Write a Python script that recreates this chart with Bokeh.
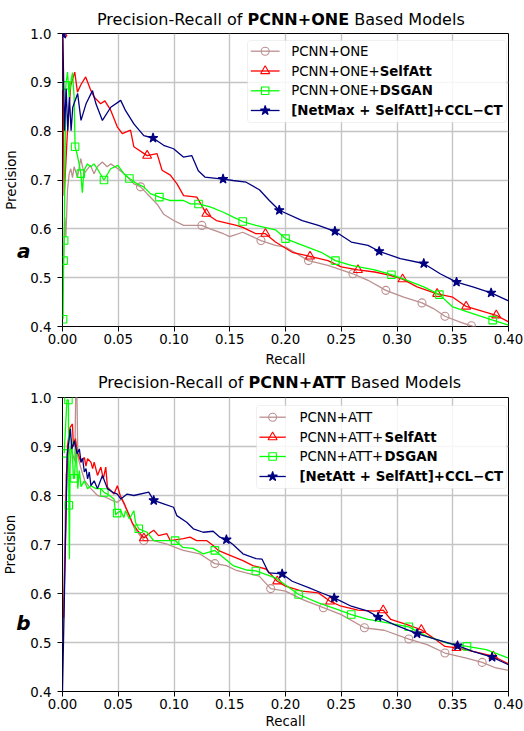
import math
from bokeh.plotting import figure
from bokeh.models import (Range1d, FixedTicker, NumeralTickFormatter, Label, BoxAnnotation,
                          LinearAxis, CustomJSTickFormatter, Div)
from bokeh.layouts import column
from bokeh.embed import file_html
from bokeh.resources import INLINE

# ---------------- data ----------------
X_TICKS = [0.0, 0.05, 0.10, 0.15, 0.20, 0.25, 0.30, 0.35, 0.40]
Y_TICKS = [0.4, 0.5, 0.6, 0.7, 0.8, 0.9, 1.0]

# Panel a : PCNN+ONE based models
ONE_PCNN_R = [0.0006, 0.002, 0.003, 0.0045, 0.006, 0.0074, 0.009, 0.0104, 0.0134, 0.0164, 0.0193, 0.025, 0.0283, 0.0312, 0.0357, 0.040, 0.0432, 0.0497, 0.0565, 0.064, 0.070, 0.0758, 0.0847, 0.0907, 0.0997, 0.1086, 0.125, 0.1324, 0.1443, 0.150, 0.1617, 0.178, 0.191, 0.200, 0.2206, 0.238, 0.2605, 0.274, 0.290, 0.306, 0.3224, 0.3327, 0.343, 0.356, 0.3667, 0.380]
ONE_PCNN_P = [0.50, 0.624, 0.583, 0.68, 0.713, 0.723, 0.705, 0.727, 0.706, 0.744, 0.713, 0.73, 0.713, 0.727, 0.737, 0.727, 0.733, 0.723, 0.71, 0.692, 0.686, 0.672, 0.651, 0.63, 0.617, 0.607, 0.607, 0.60, 0.59, 0.584, 0.593, 0.576, 0.566, 0.5626, 0.535, 0.525, 0.508, 0.4946, 0.474, 0.46, 0.4483, 0.4367, 0.421, 0.4095, 0.4014, 0.39]
ONE_PCNN_MR = [0.070, 0.125, 0.178, 0.2206, 0.2605, 0.290, 0.3224, 0.343, 0.3667]
ONE_PCNN_MP = [0.686, 0.607, 0.576, 0.535, 0.508, 0.474, 0.4483, 0.421, 0.4014]

ONE_SELF_R = [0.0, 0.0015, 0.0045, 0.0074, 0.011, 0.0134, 0.0165, 0.0208, 0.0253, 0.0283, 0.0342, 0.038, 0.0432, 0.0491, 0.0536, 0.061, 0.064, 0.0759, 0.0848, 0.0893, 0.0967, 0.1027, 0.1086, 0.1205, 0.129, 0.138, 0.156, 0.1616, 0.1734, 0.182, 0.191, 0.206, 0.222, 0.238, 0.250, 0.265, 0.280, 0.293, 0.305, 0.318, 0.336, 0.350, 0.362, 0.374, 0.389, 0.400]
ONE_SELF_P = [1.0, 0.668, 0.802, 0.894, 0.921, 0.880, 0.895, 0.911, 0.884, 0.870, 0.856, 0.862, 0.843, 0.809, 0.795, 0.802, 0.768, 0.750, 0.754, 0.720, 0.710, 0.692, 0.668, 0.665, 0.631, 0.617, 0.607, 0.603, 0.590, 0.590, 0.573, 0.552, 0.5435, 0.535, 0.522, 0.516, 0.5116, 0.505, 0.497, 0.481, 0.467, 0.460, 0.441, 0.433, 0.423, 0.4095]
ONE_SELF_MR = [0.0, 0.0759, 0.129, 0.182, 0.222, 0.265, 0.305, 0.336, 0.362, 0.389]
ONE_SELF_MP = [1.0, 0.750, 0.631, 0.590, 0.5435, 0.516, 0.497, 0.467, 0.441, 0.423]

ONE_DSGAN_R = [0.0005, 0.001, 0.0015, 0.003, 0.0045, 0.006, 0.0074, 0.009, 0.0104, 0.0113, 0.013, 0.0149, 0.0164, 0.0178, 0.0193, 0.0223, 0.0253, 0.0283, 0.032, 0.0372, 0.0432, 0.0497, 0.055, 0.060, 0.0669, 0.0729, 0.0788, 0.0869, 0.0967, 0.1086, 0.1146, 0.122, 0.1324, 0.1443, 0.1532, 0.1616, 0.1734, 0.191, 0.200, 0.212, 0.232, 0.2448, 0.259, 0.280, 0.295, 0.309, 0.324, 0.338, 0.350, 0.368, 0.3858, 0.400]
ONE_DSGAN_P = [0.415, 0.535, 0.576, 0.894, 0.921, 0.870, 0.900, 0.920, 0.870, 0.768, 0.754, 0.733, 0.713, 0.674, 0.720, 0.733, 0.727, 0.733, 0.720, 0.700, 0.723, 0.730, 0.713, 0.703, 0.692, 0.686, 0.672, 0.665, 0.658, 0.658, 0.651, 0.651, 0.645, 0.634, 0.624, 0.615, 0.607, 0.598, 0.580, 0.569, 0.552, 0.535, 0.525, 0.516, 0.506, 0.4946, 0.481, 0.4653, 0.440, 0.4265, 0.413, 0.403]
ONE_DSGAN_MR = [0.0005, 0.001, 0.0015, 0.003, 0.0113, 0.0164, 0.0372, 0.060, 0.0869, 0.122, 0.1616, 0.200, 0.2448, 0.295, 0.338, 0.3858]
ONE_DSGAN_MP = [0.415, 0.535, 0.576, 0.894, 0.768, 0.713, 0.700, 0.703, 0.665, 0.651, 0.615, 0.580, 0.535, 0.506, 0.4653, 0.413]

ONE_CCL_R = [0.0003, 0.0018, 0.0033, 0.0047, 0.0062, 0.0077, 0.0092, 0.0136, 0.0166, 0.0211, 0.0269, 0.030, 0.0358, 0.0433, 0.0522, 0.0566, 0.064, 0.0729, 0.0812, 0.0907, 0.0996, 0.1084, 0.1159, 0.1218, 0.1277, 0.144, 0.1529, 0.1647, 0.1766, 0.1855, 0.1944, 0.215, 0.2295, 0.2443, 0.259, 0.274, 0.284, 0.303, 0.324, 0.3387, 0.3534, 0.368, 0.3844, 0.400]
ONE_CCL_P = [0.999, 0.801, 0.887, 0.801, 0.870, 0.801, 0.849, 0.877, 0.822, 0.856, 0.883, 0.856, 0.822, 0.849, 0.863, 0.842, 0.815, 0.791, 0.786, 0.771, 0.764, 0.747, 0.750, 0.719, 0.706, 0.702, 0.699, 0.6955, 0.680, 0.658, 0.638, 0.617, 0.607, 0.595, 0.573, 0.566, 0.554, 0.539, 0.529, 0.508, 0.491, 0.481, 0.469, 0.4524]
ONE_CCL_MR = [0.0003, 0.0812, 0.144, 0.1944, 0.2443, 0.284, 0.324, 0.3534, 0.3844]
ONE_CCL_MP = [0.999, 0.786, 0.702, 0.638, 0.595, 0.554, 0.529, 0.491, 0.469]

# Panel b : PCNN+ATT based models
ATT_PCNN_R = [0.0005, 0.003, 0.007, 0.011, 0.0118, 0.013, 0.0137, 0.0166, 0.020, 0.025, 0.0314, 0.038, 0.0447, 0.0492, 0.053, 0.0566, 0.060, 0.064, 0.0729, 0.0818, 0.0936, 0.101, 0.1084, 0.123, 0.1366, 0.147, 0.156, 0.1647, 0.1764, 0.1867, 0.200, 0.2148, 0.234, 0.250, 0.2708, 0.2885, 0.3106, 0.327, 0.343, 0.3622, 0.3764, 0.3888, 0.400]
ATT_PCNN_P = [0.50, 0.84, 0.90, 0.87, 1.0, 1.0, 0.88, 0.855, 0.83, 0.815, 0.80, 0.797, 0.79, 0.786, 0.793, 0.775, 0.76, 0.735, 0.708, 0.708, 0.701, 0.694, 0.688, 0.681, 0.661, 0.657, 0.647, 0.642, 0.6355, 0.61, 0.605, 0.588, 0.571, 0.557, 0.53, 0.525, 0.507, 0.4956, 0.4785, 0.468, 0.4594, 0.448, 0.443]
ATT_PCNN_MR = [0.0729, 0.1366, 0.1867, 0.234, 0.2708, 0.3106, 0.343, 0.3764]
ATT_PCNN_MP = [0.708, 0.661, 0.61, 0.571, 0.53, 0.507, 0.4785, 0.4594]

ATT_SELF_R = [0.001, 0.0045, 0.0068, 0.0089, 0.0098, 0.0116, 0.0131, 0.0166, 0.0196, 0.021, 0.0225, 0.0255, 0.027, 0.0284, 0.0314, 0.0344, 0.0366, 0.0388, 0.0403, 0.0462, 0.0492, 0.0518, 0.0553, 0.0628, 0.0673, 0.073, 0.0773, 0.0818, 0.0862, 0.0936, 0.0966, 0.1084, 0.1144, 0.1203, 0.1292, 0.1351, 0.1396, 0.147, 0.1618, 0.1707, 0.1825, 0.1926, 0.200, 0.2148, 0.2295, 0.240, 0.250, 0.265, 0.280, 0.2876, 0.2944, 0.309, 0.3218, 0.3327, 0.343, 0.3534, 0.368, 0.3864, 0.400]
ATT_SELF_P = [0.55, 0.902, 0.939, 0.946, 0.90, 0.916, 0.89, 0.868, 0.878, 0.86, 0.875, 0.868, 0.855, 0.868, 0.841, 0.858, 0.834, 0.858, 0.817, 0.803, 0.82, 0.80, 0.784, 0.743, 0.729, 0.713, 0.722, 0.729, 0.718, 0.722, 0.708, 0.712, 0.715, 0.708, 0.708, 0.698, 0.688, 0.681, 0.667, 0.657, 0.65, 0.625, 0.615, 0.605, 0.6013, 0.584, 0.574, 0.566, 0.564, 0.566, 0.547, 0.5365, 0.526, 0.509, 0.492, 0.489, 0.482, 0.472, 0.4567]
ATT_SELF_MR = [0.073, 0.1926, 0.240, 0.2876, 0.3218, 0.3534, 0.3864]
ATT_SELF_MP = [0.713, 0.625, 0.584, 0.566, 0.526, 0.489, 0.472]

ATT_DSGAN_R = [0.0015, 0.004, 0.0053, 0.0057, 0.0062, 0.0068, 0.0083, 0.0098, 0.0107, 0.0122, 0.0137, 0.0151, 0.0166, 0.0196, 0.0225, 0.0255, 0.030, 0.0344, 0.0375, 0.0403, 0.0462, 0.0477, 0.049, 0.0522, 0.055, 0.0566, 0.060, 0.064, 0.0655, 0.0684, 0.0758, 0.0818, 0.101, 0.108, 0.117, 0.1262, 0.1366, 0.144, 0.1529, 0.1647, 0.1734, 0.191, 0.2118, 0.2295, 0.247, 0.259, 0.274, 0.2915, 0.3106, 0.327, 0.3445, 0.3628, 0.380, 0.400]
ATT_DSGAN_P = [0.886, 0.995, 0.995, 0.78, 0.67, 0.86, 0.916, 0.835, 0.835, 0.899, 0.814, 0.851, 0.818, 0.83, 0.814, 0.82, 0.814, 0.814, 0.806, 0.803, 0.793, 0.76, 0.764, 0.769, 0.755, 0.769, 0.752, 0.769, 0.745, 0.732, 0.725, 0.708, 0.708, 0.694, 0.692, 0.681, 0.688, 0.674, 0.657, 0.648, 0.646, 0.632, 0.598, 0.581, 0.567, 0.557, 0.547, 0.54, 0.532, 0.5126, 0.499, 0.492, 0.4853, 0.468]
ATT_DSGAN_MR = [0.0015, 0.0053, 0.0057, 0.0107, 0.0375, 0.049, 0.0684, 0.101, 0.1366, 0.1734, 0.2118, 0.259, 0.3106, 0.3628]
ATT_DSGAN_MP = [0.886, 0.995, 0.78, 0.835, 0.806, 0.764, 0.732, 0.708, 0.688, 0.646, 0.598, 0.557, 0.532, 0.492]

ATT_CCL_R = [0.0, 0.0042, 0.0071, 0.0083, 0.0107, 0.0131, 0.0151, 0.0166, 0.018, 0.0196, 0.0211, 0.0225, 0.024, 0.0255, 0.0284, 0.0314, 0.0358, 0.0403, 0.0447, 0.0492, 0.0522, 0.058, 0.064, 0.0773, 0.0818, 0.0907, 0.0996, 0.1025, 0.1114, 0.1173, 0.1262, 0.1351, 0.1411, 0.147, 0.1529, 0.1618, 0.1736, 0.179, 0.185, 0.197, 0.206, 0.2207, 0.2325, 0.2437, 0.259, 0.274, 0.283, 0.297, 0.318, 0.3357, 0.3543, 0.368, 0.3853, 0.400]
ATT_CCL_P = [0.40, 0.882, 0.936, 0.895, 0.912, 0.885, 0.895, 0.868, 0.876, 0.848, 0.855, 0.834, 0.848, 0.82, 0.83, 0.814, 0.841, 0.814, 0.807, 0.803, 0.793, 0.803, 0.80, 0.807, 0.79, 0.783, 0.776, 0.759, 0.7455, 0.732, 0.725, 0.727, 0.715, 0.71, 0.70, 0.681, 0.671, 0.67, 0.642, 0.64, 0.625, 0.612, 0.601, 0.591, 0.574, 0.564, 0.552, 0.537, 0.518, 0.506, 0.4935, 0.482, 0.47, 0.4546]
ATT_CCL_MR = [0.0818, 0.147, 0.197, 0.2437, 0.283, 0.318, 0.3543, 0.3853]
ATT_CCL_MP = [0.79, 0.71, 0.64, 0.591, 0.552, 0.518, 0.4935, 0.47]

LEGEND_ONE = [("PCNN+ONE", ""), ("PCNN+ONE+", "SelfAtt"), ("PCNN+ONE+", "DSGAN"), ("", "[NetMax + SelfAtt]+CCL\u2212CT")]
LEGEND_ATT = [("PCNN+ATT", ""), ("PCNN+ATT+", "SelfAtt"), ("PCNN+ATT+", "DSGAN"), ("", "[NetAtt + SelfAtt]+CCL\u2212CT")]

# ---------------- styling ----------------
FONT = "DejaVu Sans"
COLORS = ["#bc8f8f", "#ff0000", "#00ff00", "#000080"]
MARKERS = ["circle", "triangle", "square", "star"]
MSIZE = [8, 9, 7.5, 10]
MFILL = [None, None, None, "#000080"]

W_N = {' ': .318, 'P': .603, 'r': .411, 'e': .615, 'c': .550, 'i': .278, 's': .521, 'o': .612,
       'n': .634, '-': .361, 'R': .695, 'a': .613, 'l': .278, 'f': .352, 'B': .686, 'd': .635,
       'M': .863, 'C': .698, 'N': .748, '+': .838, 'O': .787, 'E': .632, 'A': .684, 'T': .611}


def tw(s, px):
    return sum(W_N[c] for c in s) * px


FRAME_W = 450
FIG_W = 524


def lab(p, x, y, text, style="normal"):
    p.add_layout(Label(x=x, y=y, x_units="screen", y_units="screen", text=text,
                       text_font=FONT, text_font_size="10pt", text_font_style=style,
                       text_align="left", text_baseline="middle", text_color="black"))


def title_div(bold, height, pad_top, pad_left):
    html = ('<div style="font-family:\'DejaVu Sans\';font-size:16px;line-height:16px;'
            'color:black;white-space:nowrap;padding-top:%dpx;padding-left:%dpx">'
            'Precision-Recall of <b>%s</b> Based Models</div>') % (pad_top, pad_left, bold)
    return Div(text=html, width=FIG_W, height=height, margin=0)


def panel(height, fh, series, legend_labels, leg, letter, letter_y, label_standoff):
    top = 5
    bottom = height - top - fh
    p = figure(width=FIG_W, height=height, x_range=Range1d(0, 0.4), y_range=Range1d(0.4, 1.0),
               output_backend="svg", toolbar_location=None, title=None,
               min_border_left=58, min_border_right=16, min_border_top=top,
               min_border_bottom=bottom)
    p.background_fill_color = "white"
    p.border_fill_color = "white"
    p.outline_line_color = "black"
    p.outline_line_width = 1
    p.grid.grid_line_color = "#c4c4c4"
    p.grid.grid_line_width = 1.4
    p.xaxis.ticker = FixedTicker(ticks=X_TICKS)
    p.yaxis.ticker = FixedTicker(ticks=Y_TICKS)
    p.xaxis.formatter = NumeralTickFormatter(format="0.00")
    p.yaxis.formatter = NumeralTickFormatter(format="0.0")
    for ax in (p.xaxis, p.yaxis):
        ax.axis_line_color = None
        ax.major_tick_line_color = "black"
        ax.major_tick_line_width = 1
        ax.major_tick_out = 5
        ax.major_tick_in = 0
        ax.minor_tick_line_color = None
        ax.major_label_text_font = FONT
        ax.major_label_text_font_size = "10pt"
        ax.major_label_text_color = "black"
    p.xaxis.major_label_standoff = 2
    p.yaxis.major_label_standoff = 6
    p.xaxis.axis_label = "Recall"
    p.xaxis.axis_label_text_font = FONT
    p.xaxis.axis_label_text_font_size = "10pt"
    p.xaxis.axis_label_text_font_style = "normal"
    p.xaxis.axis_label_text_color = "black"
    p.xaxis.axis_label_standoff = label_standoff

    # outer left axis: carries the panel letter (as its single tick label) and "Precision"
    ext = LinearAxis(ticker=FixedTicker(ticks=[letter_y]),
                     formatter=CustomJSTickFormatter(code="return '%s';" % letter),
                     axis_label="Precision")
    ext.axis_line_color = None
    ext.major_tick_line_color = None
    ext.minor_tick_line_color = None
    ext.major_tick_out = 0
    ext.major_tick_in = 0
    ext.major_label_standoff = -3
    ext.major_label_text_font = FONT
    ext.major_label_text_font_size = "15pt"
    ext.major_label_text_font_style = "bold italic"
    ext.major_label_text_color = "black"
    ext.axis_label_standoff = -5
    ext.axis_label_text_font = FONT
    ext.axis_label_text_font_size = "10pt"
    ext.axis_label_text_font_style = "normal"
    ext.axis_label_text_color = "black"
    p.add_layout(ext, "left")

    for i, (r, pr, mr, mp) in enumerate(series):
        p.line(r, pr, line_color=COLORS[i], line_width=1.3)
        p.scatter(mr, mp, marker=MARKERS[i], size=MSIZE[i], line_color=COLORS[i],
                  fill_color=MFILL[i], line_width=1.1)

    # legend (mixed normal / bold entries)
    l, r_, b_, t_ = leg["box"]
    p.add_layout(BoxAnnotation(left=l, right=r_, bottom=b_, top=t_, left_units="screen",
                               right_units="screen", bottom_units="screen", top_units="screen",
                               fill_color="white", fill_alpha=0.85, line_color="#cccccc",
                               line_width=1, border_radius=3))

    def to_x(sx):
        return 0.4 * sx / FRAME_W

    def to_y(sy):
        return 0.4 + 0.6 * sy / fh

    for i, (norm, bold) in enumerate(legend_labels):
        sy = leg["rows"][i]
        p.line([to_x(leg["line"][0]), to_x(leg["line"][1])], [to_y(sy), to_y(sy)],
               line_color=COLORS[i], line_width=1.3, level="overlay")
        p.scatter([to_x(leg["mark"])], [to_y(sy)], marker=MARKERS[i], size=MSIZE[i],
                  line_color=COLORS[i], fill_color=MFILL[i], line_width=1.1, level="overlay")
        x = leg["text"]
        if norm:
            lab(p, x, sy, norm)
            x += tw(norm, 13.333)
        if bold:
            lab(p, x, sy, bold, style="bold")
    return p


SERIES_ONE = [(ONE_PCNN_R, ONE_PCNN_P, ONE_PCNN_MR, ONE_PCNN_MP),
              (ONE_SELF_R, ONE_SELF_P, ONE_SELF_MR, ONE_SELF_MP),
              (ONE_DSGAN_R, ONE_DSGAN_P, ONE_DSGAN_MR, ONE_DSGAN_MP),
              (ONE_CCL_R, ONE_CCL_P, ONE_CCL_MR, ONE_CCL_MP)]
SERIES_ATT = [(ATT_PCNN_R, ATT_PCNN_P, ATT_PCNN_MR, ATT_PCNN_MP),
              (ATT_SELF_R, ATT_SELF_P, ATT_SELF_MR, ATT_SELF_MP),
              (ATT_DSGAN_R, ATT_DSGAN_P, ATT_DSGAN_MR, ATT_DSGAN_MP),
              (ATT_CCL_R, ATT_CCL_P, ATT_CCL_MR, ATT_CCL_MP)]

FH1 = 293
FH2 = 294
leg1 = {"box": (185, 444, FH1 - 89, FH1 - 7), "rows": [FH1 - 17.7, FH1 - 37.5, FH1 - 57.3, FH1 - 77],
        "line": (190, 219), "mark": 204.5, "text": 228.7}
leg2 = {"box": (194, 444, FH2 - 91, FH2 - 8), "rows": [FH2 - 19.7, FH2 - 39.7, FH2 - 59, FH2 - 79],
        "line": (198.7, 225.3), "mark": 212, "text": 237}

d1 = title_div("PCNN+ONE", 28, 12, 97)
p1 = panel(342, FH1, SERIES_ONE, LEGEND_ONE, leg1, "a", 0.5556, 5)
d2 = title_div("PCNN+ATT", 22, 5, 98)
p2 = panel(339, FH2, SERIES_ATT, LEGEND_ATT, leg2, "b", 0.5408, 2)

layout = column(d1, p1, d2, p2, spacing=0)
open("out.html", "w").write(file_html(layout, INLINE))
